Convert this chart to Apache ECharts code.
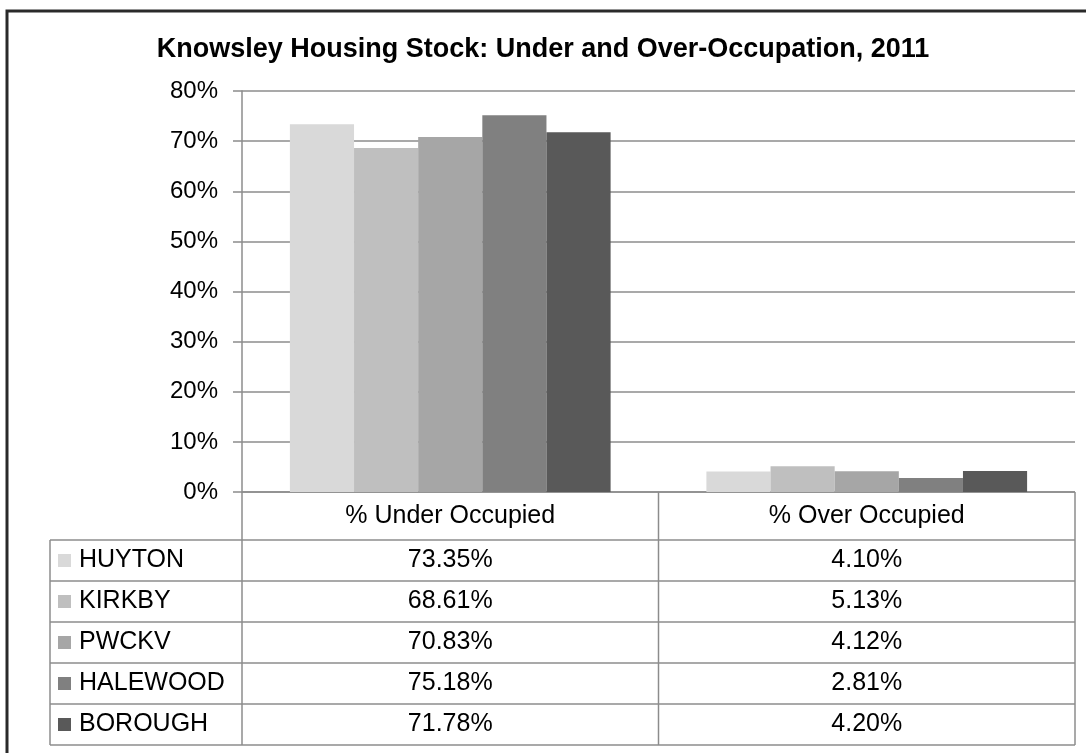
<!DOCTYPE html>
<html>
<head>
<meta charset="utf-8">
<script src="https://cdn.jsdelivr.net/npm/echarts@6/dist/echarts.min.js"></script>
<style>
  html, body { margin: 0; padding: 0; background: #fff; }
  #main { width: 1086px; height: 753px; }
</style>
</head>
<body>
<div id="main"></div>
<script>
var categories = ['% Under Occupied', '% Over Occupied'];
var areaNames = ['HUYTON', 'KIRKBY', 'PWCKV', 'HALEWOOD', 'BOROUGH'];
var huyton = [73.35, 4.10];
var kirkby = [68.61, 5.13];
var pwckv = [70.83, 4.12];
var halewood = [75.18, 2.81];
var borough = [71.78, 4.20];
var yTicks = [0, 10, 20, 30, 40, 50, 60, 70, 80];

var seriesData = [huyton, kirkby, pwckv, halewood, borough];
var colors = ['#d9d9d9', '#bfbfbf', '#a6a6a6', '#808080', '#595959'];
var font = 'Liberation Sans, Arial, sans-serif';

// plot box
var plotLeft = 242, plotRight = 1075, plotTop = 91, plotBottom = 492;
var tableLeft = 50, headH = 48, rowH = 41;
var lineColor = '#8c8c8c';

function BuildTable() {
    var els = [];
    var colW = (plotRight - plotLeft) / categories.length;
    var yEnd = plotBottom + headH + rowH * areaNames.length;
    // vertical lines
    for (var c = 0; c <= categories.length; c++) {
        var x = plotLeft + c * colW;
        els.push({type: 'line', shape: {x1: x, y1: plotBottom, x2: x, y2: yEnd},
            style: {stroke: lineColor, lineWidth: 1.5}});
    }
    els.push({type: 'line', shape: {x1: tableLeft, y1: plotBottom + headH, x2: tableLeft, y2: yEnd},
        style: {stroke: lineColor, lineWidth: 1.5}});
    els.push({type: 'line', shape: {x1: plotLeft, y1: plotBottom, x2: plotRight, y2: plotBottom},
        style: {stroke: lineColor, lineWidth: 1.5}});
    for (var r = 0; r <= areaNames.length; r++) {
        var y = plotBottom + headH + r * rowH;
        els.push({type: 'line', shape: {x1: tableLeft, y1: y, x2: plotRight, y2: y},
            style: {stroke: lineColor, lineWidth: 1.5}});
    }
    for (var i = 0; i < areaNames.length; i++) {
        var cy = plotBottom + headH + i * rowH + rowH / 2;
        els.push({type: 'rect', shape: {x: 58, y: cy - 6.5, width: 13, height: 13},
            style: {fill: colors[i]}});
        els.push({type: 'text', x: 79, y: cy,
            style: {text: areaNames[i], fill: '#000', font: '25px ' + font,
                textAlign: 'left', textVerticalAlign: 'middle'}});
        for (var j = 0; j < categories.length; j++) {
            els.push({type: 'text', x: plotLeft + colW * (j + 0.5), y: cy,
                style: {text: seriesData[i][j].toFixed(2) + '%', fill: '#000',
                    font: '25px ' + font, textAlign: 'center', textVerticalAlign: 'middle'}});
        }
    }
    // outer frame (cropped on right/bottom)
    els.push({type: 'rect', shape: {x: 7, y: 11, width: 1100, height: 760},
        style: {fill: 'none', stroke: '#2a2a2a', lineWidth: 3}});
    return els;
}

var myChart = echarts.init(document.getElementById('main'));
var series = [];
for (var i = 0; i < areaNames.length; i++) {
    series.push({
        name: areaNames[i],
        type: 'bar',
        barGap: '0%',
        barCategoryGap: '23%',
        itemStyle: {color: colors[i]},
        data: seriesData[i]
    });
}

var option = {
    animation: false,
    backgroundColor: '#fff',
    title: {
        text: 'Knowsley Housing Stock: Under and Over-Occupation, 2011',
        left: 'center',
        top: 31,
        textStyle: {fontFamily: font, fontSize: 27, fontWeight: 'bold', color: '#000'}
    },
    grid: {left: plotLeft, right: 1086 - plotRight, top: plotTop, bottom: 753 - plotBottom},
    xAxis: {
        type: 'category',
        data: categories,
        axisLine: {show: false},
        axisTick: {show: false},
        axisLabel: {margin: 12, fontFamily: font, fontSize: 25, color: '#000'}
    },
    yAxis: {
        type: 'value',
        min: yTicks[0],
        max: yTicks[yTicks.length - 1],
        interval: 10,
        axisLine: {show: true, lineStyle: {color: lineColor, width: 1.5}},
        axisTick: {show: true, length: 9, lineStyle: {color: lineColor, width: 1.5}},
        splitLine: {lineStyle: {color: lineColor, width: 1.5}},
        axisLabel: {formatter: '{value}%', margin: 24, fontFamily: font, fontSize: 24, color: '#000'}
    },
    graphic: BuildTable(),
    series: series
};

myChart.setOption(option);
</script>
</body>
</html>
